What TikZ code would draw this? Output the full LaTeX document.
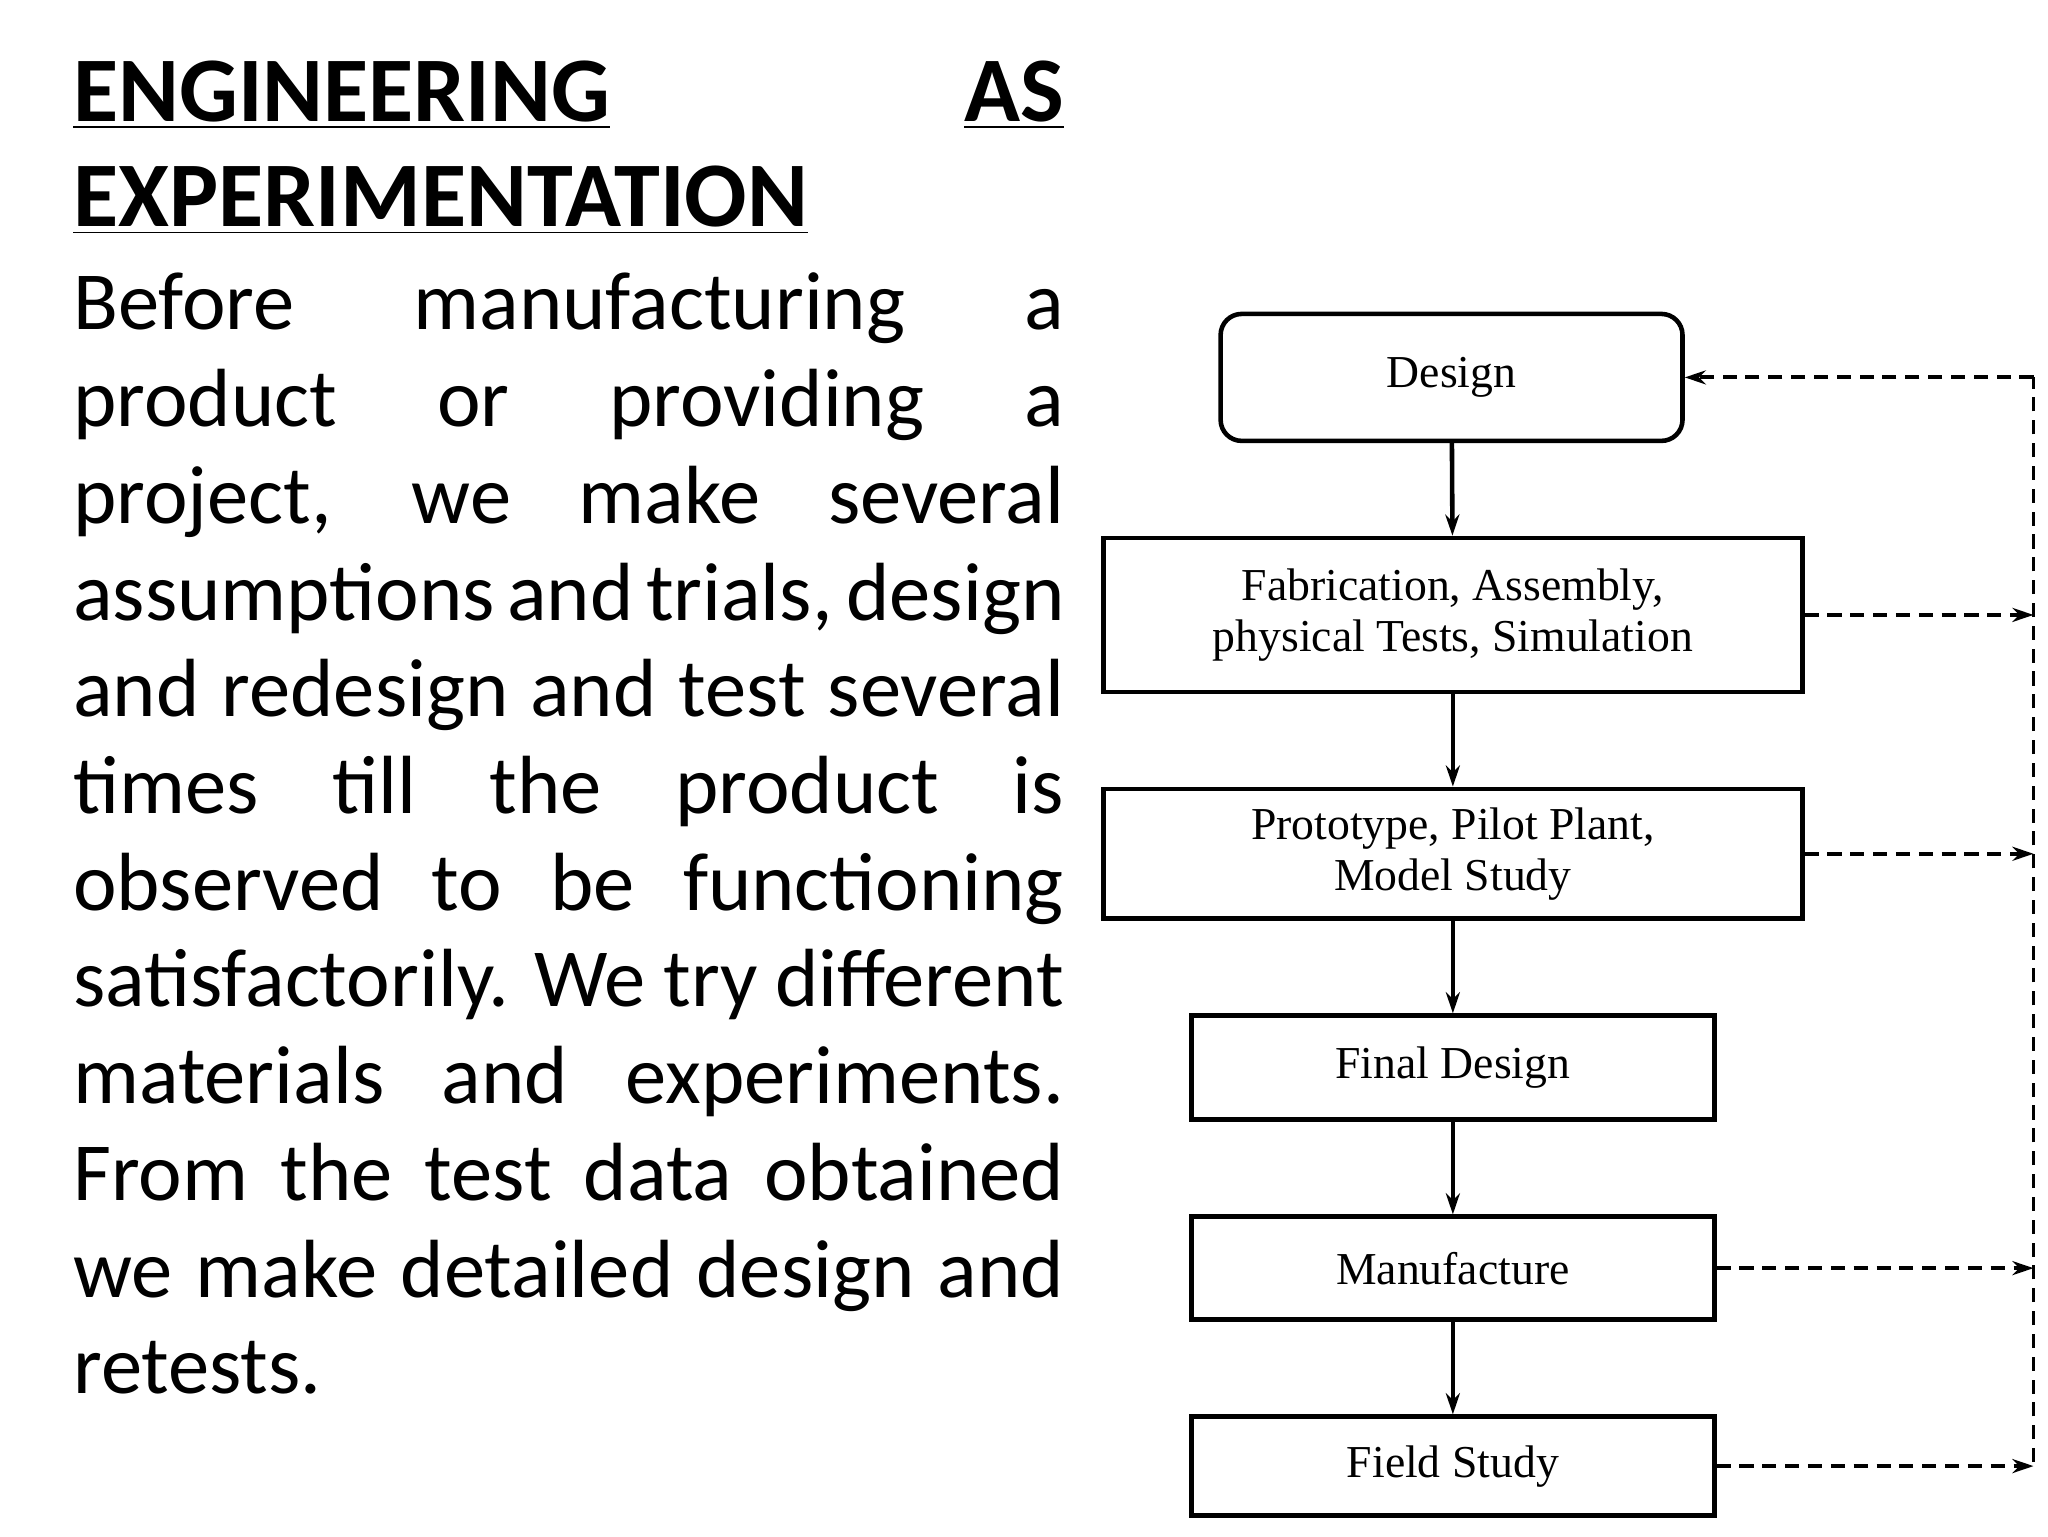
\documentclass[tikz,border=0pt]{standalone}
\usepackage{fontspec}
\setmainfont{Carlito}
\newfontfamily\boxfont{Liberation Serif}
\usetikzlibrary{arrows.meta}
\tikzset{
  bx/.style={draw,line width=1.3pt,inner sep=0pt,align=center,font=\boxfont\fontsize{13}{14.5}\selectfont},
  flow/.style={line width=1.3pt,-{Stealth[length=6pt,width=4pt]}},
  fb/.style={line width=1.1pt,dashed,dash pattern=on 4pt off 2.5pt,-{Stealth[length=6pt,width=4pt]}},
  ln/.style={anchor=base west,inner sep=0pt,font=\fontsize{23.5}{28}\selectfont},
  tl/.style={anchor=base west,inner sep=0pt,font=\bfseries\fontsize{26.3}{32}\selectfont}
}
\begin{document}
\begin{tikzpicture}[x=0.0132cm,y=-0.0132cm]
\useasboundingbox (0,0) rectangle (1552,1164);
\node[tl] (t1) at (55,92) {\makebox[9.91cm][s]{\underline{ENGINEERING} \underline{AS}}};
\node[tl] (t2) at (55,172) {\underline{EXPERIMENTATION}};
\foreach \i/\t in {0/{Before manufacturing a},1/{product or providing a},2/{project, we make several},3/{assumptions and trials, design},4/{and redesign and test several},5/{times till the product is},6/{observed to be functioning},7/{satisfactorily. We try different},8/{materials and experiments.},9/{From the test data obtained},10/{we make detailed design and}}
  \node[ln] (l\i) at (55,{250+73.3*\i}) {\makebox[9.91cm][s]{\t}};
\node[ln] (l11) at (55,1056) {retests.};
% boxes
\node[bx,rounded corners=6pt,minimum width=4.62cm,minimum height=1.27cm] (d) at (1100,286) {Design};
\node[bx,minimum width=6.99cm,minimum height=1.54cm] (fab) at (1101,466) {Fabrication, Assembly,\\physical Tests, Simulation};
\node[bx,minimum width=6.99cm,minimum height=1.3cm] (pro) at (1101,647) {Prototype, Pilot Plant,\\Model Study};
\node[bx,minimum width=5.23cm,minimum height=1.04cm] (fin) at (1101,809) {Final Design};
\node[bx,minimum width=5.23cm,minimum height=1.03cm] (man) at (1101,961) {Manufacture};
\node[bx,minimum width=5.23cm,minimum height=0.99cm] (fie) at (1101,1111) {Field Study};
\draw[flow] (d) -- (fab);
\draw[flow] (fab) -- (pro);
\draw[flow] (pro) -- (fin);
\draw[flow] (fin) -- (man);
\draw[flow] (man) -- (fie);
% feedback
\coordinate (top) at (1541,286);
\coordinate (bot) at (1541,1108);
\draw[line width=1.1pt,dashed,dash pattern=on 4pt off 2.5pt] (bot) -- (top);
\draw[fb] (top) -- (d.east);
\draw[fb] (fab.east) -- (fab.east -| top);
\draw[fb] (pro.east) -- (pro.east -| top);
\draw[fb] (man.east) -- (man.east -| top);
\draw[fb] (fie.east) -- (fie.east -| top);
\end{tikzpicture}
\end{document}
